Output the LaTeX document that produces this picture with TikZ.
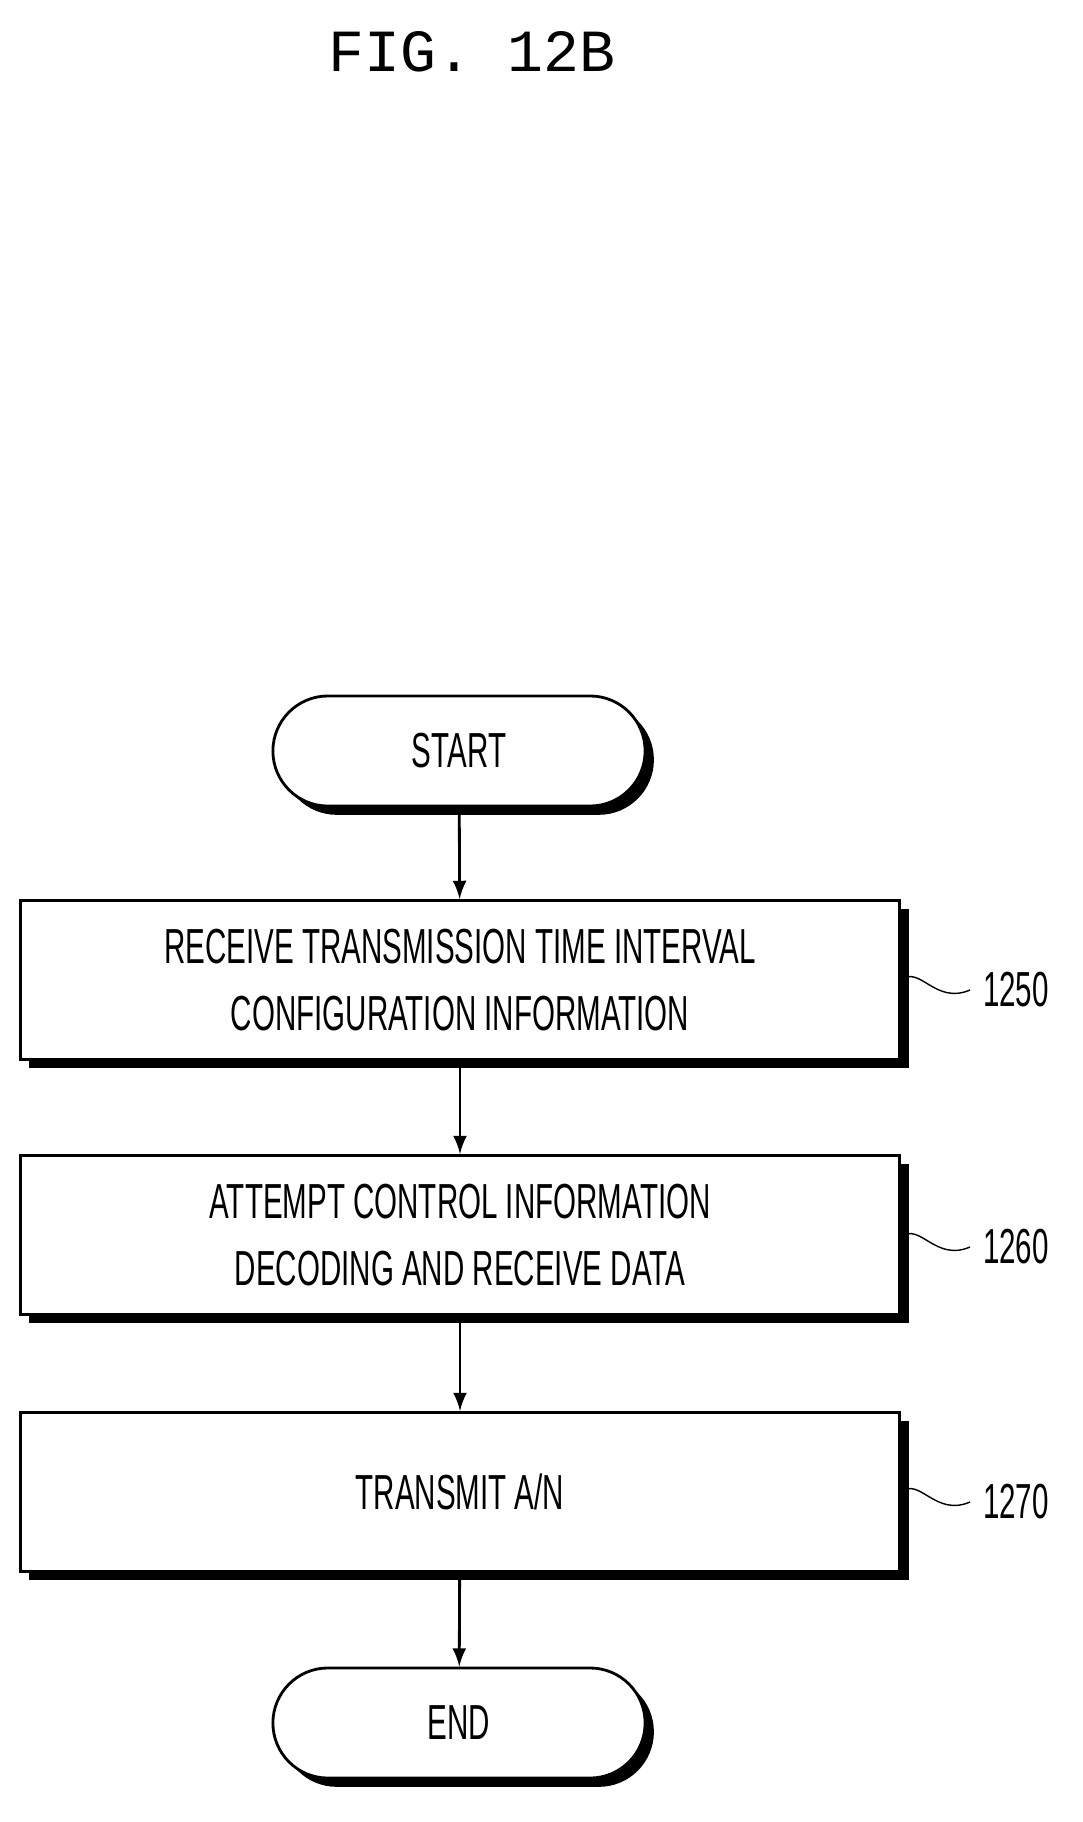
\documentclass[tikz,border=0pt]{standalone}
\usepackage{fontspec}
\setsansfont[FakeStretch=0.6]{Liberation Sans}
\setmonofont{Liberation Mono}
\usetikzlibrary{positioning,shadows}

\begin{document}
\begin{tikzpicture}[
  x=0.01cm, y=-0.01cm,
  thick,
  font=\sffamily\fontsize{14}{19}\selectfont,
  stepbox/.style={
    draw, fill=white, minimum width=8.79cm, minimum height=1.59cm,
    align=center,
    drop shadow={shadow xshift=2.5pt, shadow yshift=-2.5pt, opacity=1, fill=black}
  },
  terminal/.style={
    draw, fill=white, rounded corners=0.55cm, minimum width=3.72cm,
    minimum height=1.1cm,
    drop shadow={shadow xshift=2.5pt, shadow yshift=-2.5pt, opacity=1, fill=black}
  },
  flow/.style={-latex}
]
  \useasboundingbox (0,0) rectangle (1082,1822);
  \node[font=\ttfamily\fontsize{17}{20}\selectfont] (title) at (472,52) {FIG. 12B};

  \node[terminal] (start) at (459,751) {START};
  \node[stepbox] (s1250) at (460,980)
    {RECEIVE TRANSMISSION TIME INTERVAL\\CONFIGURATION INFORMATION};
  \node[stepbox] (s1260) at (460,1235)
    {ATTEMPT CONTROL INFORMATION\\DECODING AND RECEIVE DATA};
  \node[stepbox] (s1270) at (460,1492) {TRANSMIT A/N};
  \node[terminal] (end) at (459,1723) {END};

  \draw[flow] (start) -- (s1250);
  \draw[flow] (s1250) -- (s1260);
  \draw[flow] (s1260) -- (s1270);
  \draw[flow] (s1270) -- (end);

  % reference numerals
  \foreach \step/\yy in {1250/990,1260/1247,1270/1502} {
    \node[anchor=west] (n\step) at (970,\yy) {\step};
    \draw[thin] (s\step.east |- 0,\yy-10) .. controls (920,\yy-25) and (935,\yy+15) .. (n\step.west);
  }
\end{tikzpicture}
\end{document}
